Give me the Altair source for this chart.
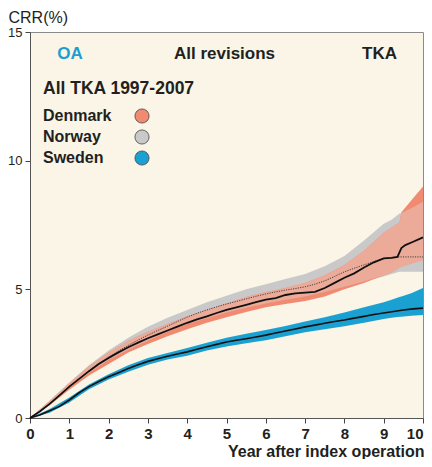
import altair as alt
import pandas as pd

# ---------------- data ----------------
# Confidence-band grid (years) and bounds (CRR %)
band_years = [0, 0.5, 1, 1.5, 2, 2.5, 3, 3.5, 4, 4.5, 5, 5.5, 6, 6.5, 7, 7.5, 8, 8.5,
              9, 9.2, 9.4, 9.45, 9.7, 10]
denmark_hi = [0, 0.65, 1.35, 2.0, 2.55, 3.0, 3.35, 3.65, 3.95, 4.2, 4.45, 4.7, 4.9, 5.05,
              5.25, 5.55, 5.95, 6.5, 7.2, 7.4, 7.6, 8.0, 8.45, 9.0]
denmark_lo = [0, 0.5, 1.1, 1.65, 2.1, 2.55, 2.88, 3.18, 3.45, 3.7, 3.92, 4.12, 4.3, 4.43,
              4.55, 4.72, 5.0, 5.25, 5.55, 5.65, 5.85, 5.88, 6.0, 6.14]
norway_hi = [0, 0.68, 1.38, 2.05, 2.62, 3.12, 3.55, 3.9, 4.2, 4.5, 4.75, 5.0, 5.2, 5.4,
             5.6, 5.9, 6.3, 6.9, 7.55, 7.7, 7.95, 7.97, 8.15, 8.4]
norway_lo = [0, 0.55, 1.2, 1.75, 2.25, 2.65, 3.0, 3.35, 3.65, 3.88, 4.1, 4.28, 4.45, 4.6,
             4.72, 4.9, 5.1, 5.3, 5.5, 5.6, 5.68, 5.68, 5.68, 5.68]
sweden_hi = [0, 0.35, 0.8, 1.3, 1.7, 2.05, 2.33, 2.53, 2.72, 2.92, 3.12, 3.27, 3.42, 3.58,
             3.75, 3.92, 4.1, 4.3, 4.5, 4.6, 4.7, 4.72, 4.85, 5.05]
sweden_lo = [0, 0.2, 0.6, 1.12, 1.5, 1.8, 2.07, 2.27, 2.42, 2.62, 2.78, 2.9, 3.02, 3.18,
             3.33, 3.45, 3.57, 3.7, 3.85, 3.9, 3.93, 3.93, 3.97, 4.0]

# Estimate curves
denmark_years = [0, 0.25, 0.5, 0.75, 1, 1.25, 1.5, 1.75, 2, 2.25, 2.5, 2.75, 3, 3.25, 3.5,
                 3.75, 4, 4.25, 4.5, 4.75, 5, 5.25, 5.5, 5.75, 6, 6.25, 6.5, 6.75, 7, 7.25,
                 7.5, 7.75, 8, 8.25, 8.5, 8.75, 9, 9.2, 9.35, 9.45, 9.55, 9.75, 9.9, 10]
denmark_crr = [0, 0.25, 0.55, 0.88, 1.22, 1.52, 1.82, 2.1, 2.33, 2.55, 2.75, 2.93, 3.1,
               3.25, 3.4, 3.55, 3.7, 3.83, 3.95, 4.08, 4.2, 4.3, 4.4, 4.5, 4.6, 4.66, 4.78,
               4.84, 4.87, 4.9, 5.05, 5.25, 5.45, 5.62, 5.85, 6.05, 6.2, 6.22, 6.26, 6.6,
               6.72, 6.85, 6.95, 7.02]
norway_years = [0, 0.25, 0.5, 0.75, 1, 1.25, 1.5, 1.75, 2, 2.25, 2.5, 2.75, 3, 3.25, 3.5,
                3.75, 4, 4.25, 4.5, 4.75, 5, 5.25, 5.5, 5.75, 6, 6.25, 6.5, 6.75, 7, 7.25,
                7.5, 7.75, 8, 8.25, 8.5, 8.75, 9, 9.2, 9.4, 10]
norway_crr = [0, 0.25, 0.55, 0.88, 1.22, 1.52, 1.83, 2.12, 2.37, 2.6, 2.82, 3.03, 3.22,
              3.4, 3.57, 3.75, 3.92, 4.07, 4.2, 4.32, 4.43, 4.53, 4.63, 4.73, 4.82, 4.9,
              4.97, 5.03, 5.1, 5.2, 5.33, 5.5, 5.68, 5.82, 5.95, 6.08, 6.2, 6.24, 6.26, 6.26]
sweden_years = [0, 0.25, 0.5, 0.75, 1, 1.25, 1.5, 1.75, 2, 2.25, 2.5, 2.75, 3, 3.25, 3.5,
                3.75, 4, 4.25, 4.5, 4.75, 5, 5.25, 5.5, 5.75, 6, 6.25, 6.5, 6.75, 7, 7.25,
                7.5, 7.75, 8, 8.25, 8.5, 8.75, 9, 9.25, 9.5, 9.75, 10]
sweden_crr = [0, 0.12, 0.28, 0.45, 0.7, 0.98, 1.22, 1.42, 1.6, 1.76, 1.92, 2.07, 2.2, 2.3,
              2.4, 2.49, 2.57, 2.67, 2.77, 2.86, 2.95, 3.02, 3.08, 3.15, 3.22, 3.3, 3.38,
              3.46, 3.54, 3.61, 3.68, 3.75, 3.81, 3.88, 3.95, 4.02, 4.08, 4.14, 4.2, 4.24,
              4.27]

countries = ["Denmark", "Norway", "Sweden"]
country_colors = ["#F08B72", "#C9C9C9", "#1AA1D1"]
overlap_color = "#ECAA99"
header_texts = ["OA", "All revisions", "TKA"]
subtitle = "All TKA 1997-2007"
x_ticks = list(range(11))
y_ticks = [0, 5, 10, 15]

FONT = "Liberation Sans"
TXT = "#231F20"

# ---------------- frames ----------------
def band(lo, hi):
    return pd.DataFrame({"year": band_years, "lo": lo, "hi": hi})

dk_band = band(denmark_lo, denmark_hi)
no_band = band(norway_lo, norway_hi)
se_band = band(sweden_lo, sweden_hi)
ov_band = pd.DataFrame({
    "year": band_years,
    "lo": [max(a, b) for a, b in zip(denmark_lo, norway_lo)],
    "hi": [min(a, b) for a, b in zip(denmark_hi, norway_hi)],
})
dk_line = pd.DataFrame({"year": denmark_years, "lo": denmark_crr})
no_line = pd.DataFrame({"year": norway_years, "lo": norway_crr})
se_line = pd.DataFrame({"year": sweden_years, "lo": sweden_crr})

x_axis = alt.Axis(values=x_ticks, title="Year after index operation",
                  titleAlign="right", titleAnchor="end", titleX=394, titleY=38,
                  titleBaseline="alphabetic", titleFontSize=16, titleFontWeight="bold",
                  labelFontSize=15, labelFontWeight="bold", tickSize=5, labelPadding=3,
                  labelAlign=alt.condition("datum.value == 10", alt.value("right"), alt.value("center")),
                  labelFlush=False, grid=False)
y_axis = alt.Axis(values=y_ticks, title="CRR(%)", titleAngle=0, titleAlign="left",
                  titleBaseline="top", titleX=-22, titleY=-23, titleFontSize=16,
                  titleFontWeight="normal", labelFontSize=13, tickSize=5, labelPadding=3,
                  grid=False)

def X():
    return alt.X("year:Q", scale=alt.Scale(domain=[0, 10], nice=False), axis=x_axis)

def Y():
    return alt.Y("lo:Q", scale=alt.Scale(domain=[0, 15], nice=False), axis=y_axis)

def area(df, color):
    return alt.Chart(df).mark_area(color=color, opacity=1, interpolate="linear").encode(
        x=X(), y=Y(), y2="hi:Q")

layers = [
    area(no_band, country_colors[1]),
    area(dk_band, country_colors[0]),
    area(ov_band, overlap_color),
    area(se_band, country_colors[2]),
    alt.Chart(se_line).mark_line(color="#111", strokeWidth=1.6).encode(x=X(), y=Y()),
    alt.Chart(no_line).mark_line(color="#333", strokeWidth=0.9, strokeDash=[1.2, 1.2]).encode(x=X(), y=Y()),
    alt.Chart(dk_line).mark_line(color="#111", strokeWidth=1.8).encode(x=X(), y=Y()),
]

# header texts
hx = [40, 194.5, 349.5]
hcol = ["#1A9FD0", TXT, TXT]
for t, xv, c in zip(header_texts, hx, hcol):
    layers.append(alt.Chart(pd.DataFrame({"t": [t]})).mark_text(
        font=FONT, fontSize=17, fontWeight="bold", color=c, align="center",
        baseline="middle").encode(text="t:N", x=alt.value(xv), y=alt.value(22)))

layers.append(alt.Chart(pd.DataFrame({"t": [subtitle]})).mark_text(
    font=FONT, fontSize=17.5, fontWeight="bold", color=TXT, align="left",
    baseline="middle").encode(text="t:N", x=alt.value(13), y=alt.value(57)))

for i, (name, col) in enumerate(zip(countries, country_colors)):
    yy = 84 + 21 * i
    layers.append(alt.Chart(pd.DataFrame({"t": [name]})).mark_text(
        font=FONT, fontSize=16, fontWeight="bold", color=TXT, align="left",
        baseline="middle").encode(text="t:N", x=alt.value(13), y=alt.value(yy)))
    layers.append(alt.Chart(pd.DataFrame({"t": [name]})).mark_point(
        shape="circle", filled=True, fill=col, stroke="#444", strokeWidth=0.8,
        size=200, opacity=1).encode(x=alt.value(112), y=alt.value(yy)))

chart = alt.layer(*layers).properties(
    width=393, height=386,
    autosize=alt.AutoSizeParams(type="none"),
    padding={"left": 22, "top": 24, "right": 1, "bottom": 41},
    background="white",
).configure_view(
    fill="#FAF5E6", stroke="#8A8A8A", strokeWidth=1
).configure_axis(
    labelFont=FONT, titleFont=FONT, labelColor=TXT, titleColor=TXT,
    domainColor="#555", tickColor="#444", domainWidth=1, tickWidth=1
)

chart.save("out.html", embed_options={"renderer": "svg", "actions": False})
